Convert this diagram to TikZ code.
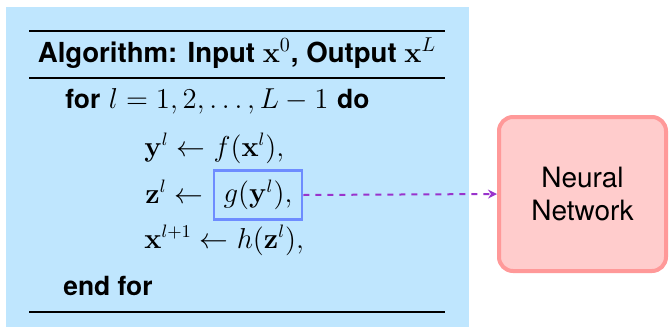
\documentclass[tikz,border=0pt]{standalone}
\usepackage[no-math]{fontspec}
\newfontfamily\hv{TeX Gyre Heros}
\usetikzlibrary{arrows.meta}
\definecolor{bgblue}{RGB}{191,230,254}
\definecolor{boxblue}{RGB}{110,140,255}
\definecolor{arrowpurple}{RGB}{153,51,204}
\definecolor{nnfill}{RGB}{255,204,204}
\definecolor{nndraw}{RGB}{255,153,153}
\newcommand{\kw}[1]{{\hv\fontsize{13.2}{15}\selectfont\bfseries #1}}
\begin{document}
\begin{tikzpicture}[x=0.5pt,y=-0.5pt,
  font=\fontsize{13.3}{15}\selectfont,
  txt/.style={inner sep=0pt, anchor=base west},
  rulel/.style={line width=1pt, black},
  gbox/.style={draw=boxblue, line width=1.3pt, minimum width=44pt, minimum height=24.5pt, inner sep=0pt},
  nnbox/.style={draw=nndraw, fill=nnfill, line width=2pt, rounded corners=7pt, minimum width=83.5pt, minimum height=77pt, align=center, font=\hv\fontsize{14}{16.5}\selectfont},
  conn/.style={arrowpurple, line width=1pt, dash pattern=on 3pt off 3pt, -{Stealth[length=4.5pt,width=4.5pt,inset=1.5pt]}}
]
\useasboundingbox (0,0) rectangle (669,327);
\fill[bgblue] (6,7) rectangle (469,327);
\draw[rulel] (29,31) -- (445,31);
\draw[rulel] (29,78) -- (445,78);
\draw[rulel] (29,312) -- (445,312);
\node[inner sep=0pt, anchor=base, font=\hv\fontsize{13.8}{16}\selectfont\bfseries] (title) at (237,62) {Algorithm: Input $\mathbf{x}^0$, Output $\mathbf{x}^L$};
\node[txt] (forl) at (65,108) {\kw{for} $l=1,2,\ldots,L-1$ \kw{do}};
\node[txt] (yl) at (144,156) {$\mathbf{y}^l \leftarrow f(\mathbf{x}^l),$};
\node[txt] (zl) at (145,203) {$\mathbf{z}^l \leftarrow$};
\node[gbox] (g) at (258,195) {$g(\mathbf{y}^l),$};
\node[txt] (xl) at (144,248) {$\mathbf{x}^{l+1} \leftarrow h(\mathbf{z}^l),$};
\node[txt] (endfor) at (63,295) {\kw{end for}};
\node[nnbox] (nn) at (582.5,194) {Neural\\Network};
\draw[conn] (g.east) -- (nn.west);
\end{tikzpicture}
\end{document}
